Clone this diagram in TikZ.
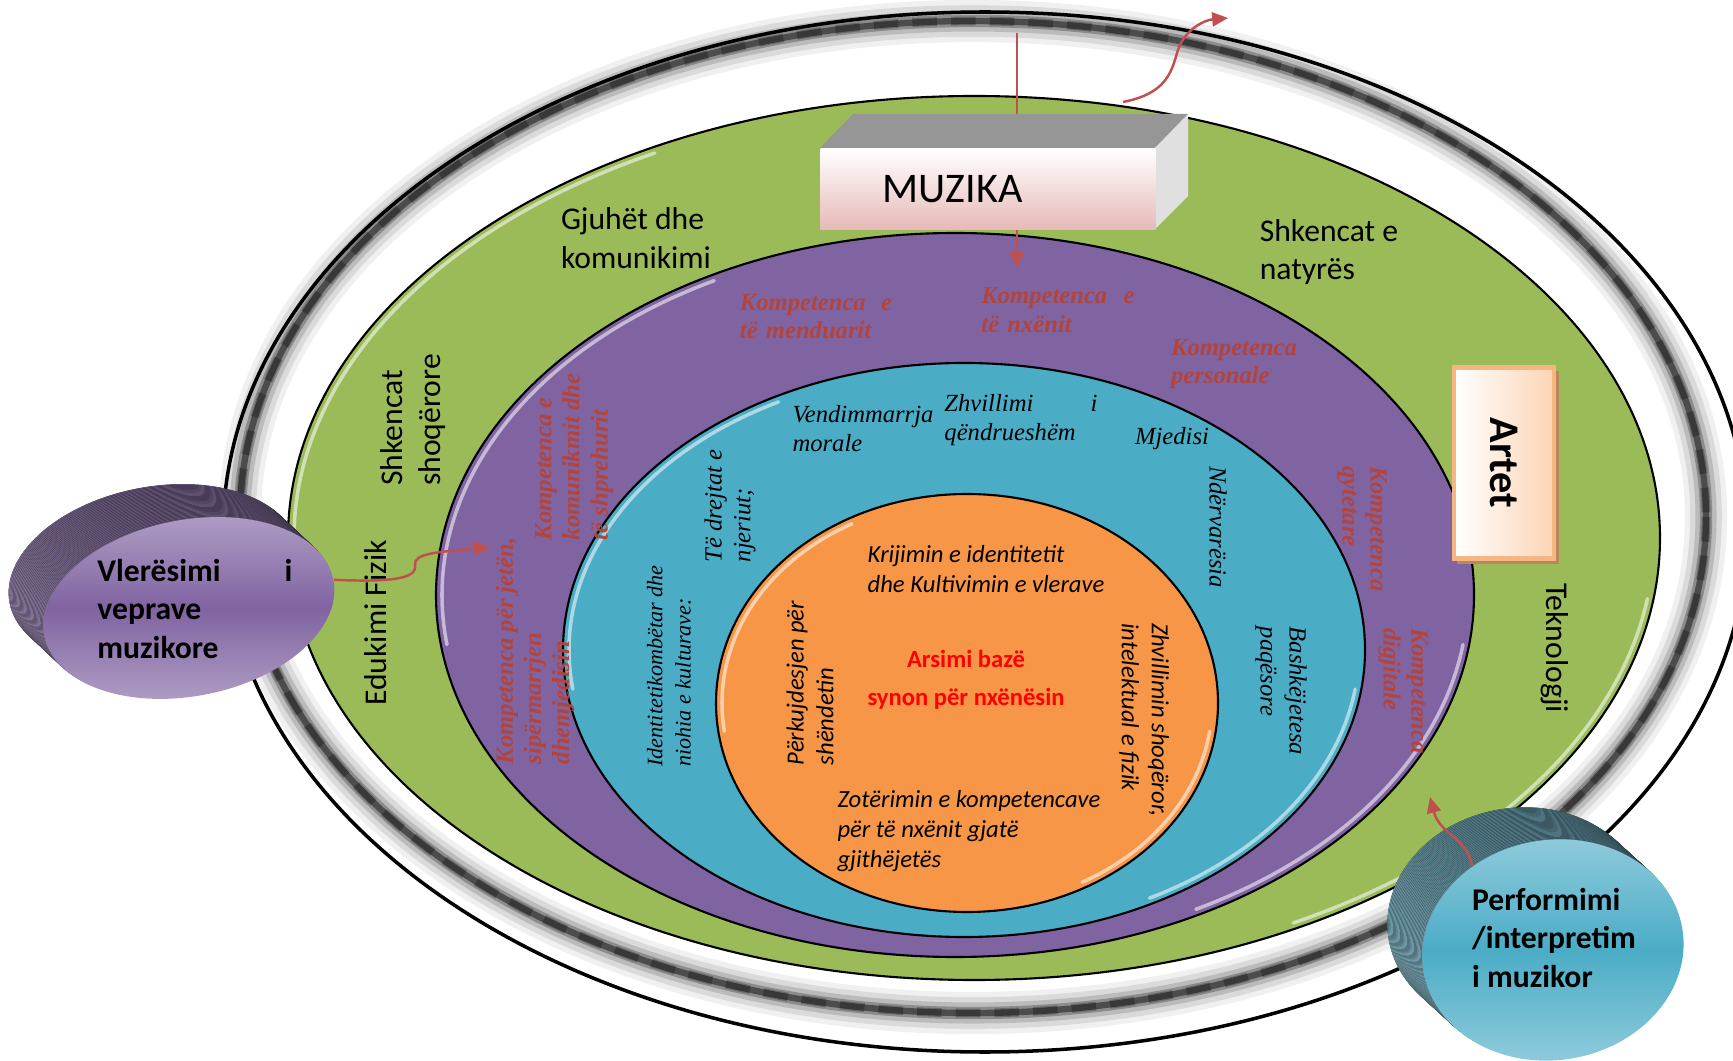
\documentclass[tikz,border=0pt]{standalone}
\usepackage{fontspec}
\setmainfont{Liberation Serif}
\setsansfont{Carlito}
\usepackage{xcolor}
\usepackage{tikz}
\usetikzlibrary{shapes.geometric, positioning}
\usetikzlibrary{arrows.meta}

\definecolor{ringgreen}{HTML}{9BBB59}
\definecolor{ringpurple}{HTML}{8064A2}
\definecolor{ringblue}{HTML}{4BACC6}
\definecolor{ringorange}{HTML}{F79646}
\definecolor{arrowred}{HTML}{C0504D}
\definecolor{labelred}{RGB}{178,68,62}
\definecolor{lilac}{HTML}{B3A2C7}
\definecolor{aqua}{HTML}{93CDDD}
\definecolor{boxtop}{HTML}{969696}
\definecolor{boxside}{HTML}{E0E0E0}
\definecolor{pinkface}{HTML}{E6B9B8}
\definecolor{peachlight}{HTML}{FCD5B5}
\definecolor{peachborder}{HTML}{F5B683}
\definecolor{peachshadow}{HTML}{B8875A}
\definecolor{purpleside}{HTML}{5E4F70}
\definecolor{purplesidelight}{HTML}{9C8CB0}
\definecolor{tealside}{HTML}{4D7480}
\definecolor{tealsidelight}{HTML}{8DBAC7}

\newcommand{\ringgloss}[4]{%
  \draw[gloss] ([shift={(-118:#3 and #4)}]#1,#2) arc[start angle=-118, end angle=-188, x radius=#3, y radius=#4];
  \draw[gloss] ([shift={(8:#3 and #4)}]#1,#2) arc[start angle=8, end angle=62, x radius=#3, y radius=#4];}

\begin{document}
\begin{tikzpicture}[x=0.01cm, y=-0.01cm]
% Define styles
\tikzstyle{ring} = [draw=black, line width=0.6pt]
\tikzstyle{gloss} = [white, line width=1pt, opacity=0.55, line cap=round]
\tikzstyle{subject} = [font=\sffamily\fontsize{9}{11}\selectfont, align=left, inner sep=0pt]
\tikzstyle{competence} = [font=\rmfamily\bfseries\itshape\fontsize{7}{8}\selectfont, text=labelred, align=left, inner sep=0pt]
\tikzstyle{valuetext} = [font=\rmfamily\itshape\fontsize{7}{8.2}\selectfont, align=left, inner sep=0pt]
\tikzstyle{goaltext} = [font=\sffamily\itshape\fontsize{7}{8.5}\selectfont, align=left, inner sep=0pt]
\tikzstyle{bubble_text} = [font=\sffamily\bfseries\fontsize{9}{11}\selectfont, align=left, inner sep=0pt]
\tikzstyle{red_arrow} = [draw=arrowred, line width=0.7pt, -{Triangle[length=4.5pt, width=4pt]}]

\useasboundingbox (0,0) rectangle (1733,1061);
\clip (0,0) rectangle (1733,1061);

% Define rings
\draw[ring, fill=white, line width=1pt] (985,532) ellipse [x radius=762, y radius=520];
\foreach \w/\o in {12/0.06, 9/0.09, 6/0.14, 3.5/0.25, 1.8/0.45}
  \draw[black, line width=\w pt, opacity=\o] (973,517) ellipse [x radius=733, y radius=496];
\draw[black, line width=2.5pt, opacity=0.25, dash pattern=on 7pt off 4pt] (973,517) ellipse [x radius=733, y radius=496];

\draw[ring, fill=ringgreen] (974,538) ellipse [x radius=686, y radius=442];
\ringgloss{974}{538}{680}{436}
\draw[ring, fill=ringpurple] (955,595) ellipse [x radius=519, y radius=362];
\ringgloss{955}{595}{513}{356}
\draw[ring, fill=ringblue] (964,650) ellipse [x radius=401, y radius=287];
\ringgloss{964}{650}{395}{281}
\draw[ring, fill=ringorange] (967,703) ellipse [x radius=251, y radius=209];
\ringgloss{967}{703}{245}{203}

% Define coordinates
\coordinate (muzika_in) at (1017,33);
\coordinate (nxenit_in) at (1017,268);
\coordinate (green_out) at (1123,102);
\coordinate (outer_out) at (1228,18);
\coordinate (jeten_in) at (490,547);
\coordinate (green_in) at (1430,797);

% MUZIKA box
\draw[red_arrow] (muzika_in) -- (nxenit_in);
\fill[boxtop] (820,148) -- (853,114) -- (1188,114) -- (1155,148) -- cycle;
\fill[boxside] (1155,148) -- (1188,114) -- (1188,196) -- (1155,229) -- cycle;
\node[anchor=north west, top color=white, bottom color=pinkface, minimum height=0.81cm, text width=2.11cm, inner xsep=0.62cm, align=left, font=\sffamily\fontsize{12}{14}\selectfont] (muzika) at (820,148) {MUZIKA};
\draw[red_arrow] (green_out) .. controls (1175,92) and (1172,62) .. (1180,45) .. controls (1188,28) and (1205,20) .. (outer_out);

% Artet box
\fill[peachshadow] (1457,371) rectangle (1559,564);
\node[rotate=-90, draw=peachborder, line width=1.2pt, left color=white, right color=peachlight, minimum width=1.91cm, minimum height=1.0cm, font=\sffamily\bfseries\fontsize{12}{14}\selectfont] (artet) at (1504,463) {Artet};

% Subjects
\node[subject] (gjuhet) at (636,238) {Gjuhët dhe\\komunikimi};
\node[subject] (natyres) at (1329,252) {Shkencat e\\natyrës};
\node[subject, rotate=90] (shoqerore) at (413,420) {Shkencat\\shoqërore};
\node[subject, rotate=90] (edukimi) at (376,623) {Edukimi Fizik};
\node[subject, rotate=-90] (teknologji) at (1555,648) {Teknologji};

% Competences
\node[competence, text width=1.52cm] (k_menduarit) at (816,317) {Kompetenca\hfill e\\të menduarit};
\node[competence, text width=1.53cm] (k_nxenit) at (1058,310) {Kompetenca\hfill e\\të nxënit};
\node[competence] (k_personale) at (1234,364) {Kompetenca\\personale};
\node[competence, rotate=90] (k_komunikimi) at (574,457) {Kompetenca e\\komunikmit dhe\\të shprehurit};
\node[competence, rotate=90] (k_jeten) at (535,651) {Kompetenca për jetën,\\sipërmarrjen\\dhemjedisin};
\node[competence, rotate=-90] (k_qytetare) at (1362,529) {Kompetenca\\qytetare};
\node[competence, rotate=-90] (k_digjitale) at (1403,691) {Kompetenca\\digjitale};

% Values
\node[valuetext] (v_vendimmarrja) at (863,429) {Vendimmarrja\\morale};
\node[valuetext, text width=1.53cm] (v_zhvillimi) at (1021,420) {Zhvillimi\hfill i\\qëndrueshëm};
\node[valuetext] (v_mjedisi) at (1172,439) {Mjedisi};
\node[valuetext, rotate=-90] (v_nderv) at (1218,527) {Ndërvarësia};
\node[valuetext, rotate=-90] (v_bashkejetesa) at (1281,691) {Bashkëjetesa\\paqësore};
\node[valuetext, rotate=90] (v_drejtat) at (730,506) {Të drejtat e\\njeriut;};
\node[valuetext, rotate=90, font=\rmfamily\itshape\fontsize{6.3}{8}\selectfont] (v_identiteti) at (669,666) {Identitetikombëtar dhe\\niohia e kulturave:};

% Goals
\node[goaltext] (g_krijimi) at (986,569) {Krijimin e identitetit\\dhe Kultivimin e vlerave};
\node[goaltext, align=center, font=\sffamily\bfseries\fontsize{7}{10.8}\selectfont, text=red] (g_arsimi) at (966,680) {Arsimi bazë\\synon për nxënësin};
\node[goaltext, rotate=90] (g_perkujdesja) at (810,683) {Përkujdesjen për\\shëndetin};
\node[goaltext, rotate=-90] (g_zhvillimi) at (1144,720) {Zhvillimin shoqëror,\\intelektual e fizik};
\node[goaltext] (g_zoterimi) at (969,831) {Zotërimin e kompetencave\\për të nxënit gjatë\\gjithëjetës};

% Vleresimi disc
\foreach \s in {30,...,1} {
  \pgfmathsetmacro{\cx}{189-1.17*\s}
  \pgfmathsetmacro{\cy}{608-1.1*\s}
  \fill[top color=purpleside, bottom color=purplesidelight, rotate around={11:(\cx,\cy)}] (\cx,\cy) ellipse [x radius=147, y radius=88];
}
\node[ellipse, rotate=11, minimum width=2.94cm, minimum height=1.76cm, inner sep=0pt, top color=lilac, bottom color=lilac, middle color=ringpurple] (vleresimi_face) at (189,608) {};
\node[bubble_text, text width=1.95cm] (vleresimi) at (195,609) {Vlerësimi\hfill i\\veprave\\muzikore};

% Performimi disc
\foreach \s in {30,...,1} {
  \pgfmathsetmacro{\cx}{1553-1.17*\s}
  \pgfmathsetmacro{\cy}{950-1.07*\s}
  \fill[top color=tealside, bottom color=tealsidelight, rotate around={9:(\cx,\cy)}] (\cx,\cy) ellipse [x radius=131, y radius=110];
}
\node[ellipse, rotate=9, minimum width=2.62cm, minimum height=2.2cm, inner sep=0pt, top color=aqua, bottom color=aqua, middle color=ringblue] (performimi_face) at (1553,950) {};
\node[bubble_text] (performimi) at (1554,938) {Performimi\\/interpretim\\i muzikor};

% Connect the nodes
\draw[red_arrow] (vleresimi_face.east) .. controls (385,582) and (418,580) .. (415,565) .. controls (413,553) and (440,552) .. (jeten_in);
\draw[red_arrow] (performimi_face.125) .. controls (1468,838) and (1440,835) .. (green_in);

\end{tikzpicture}
\end{document}
